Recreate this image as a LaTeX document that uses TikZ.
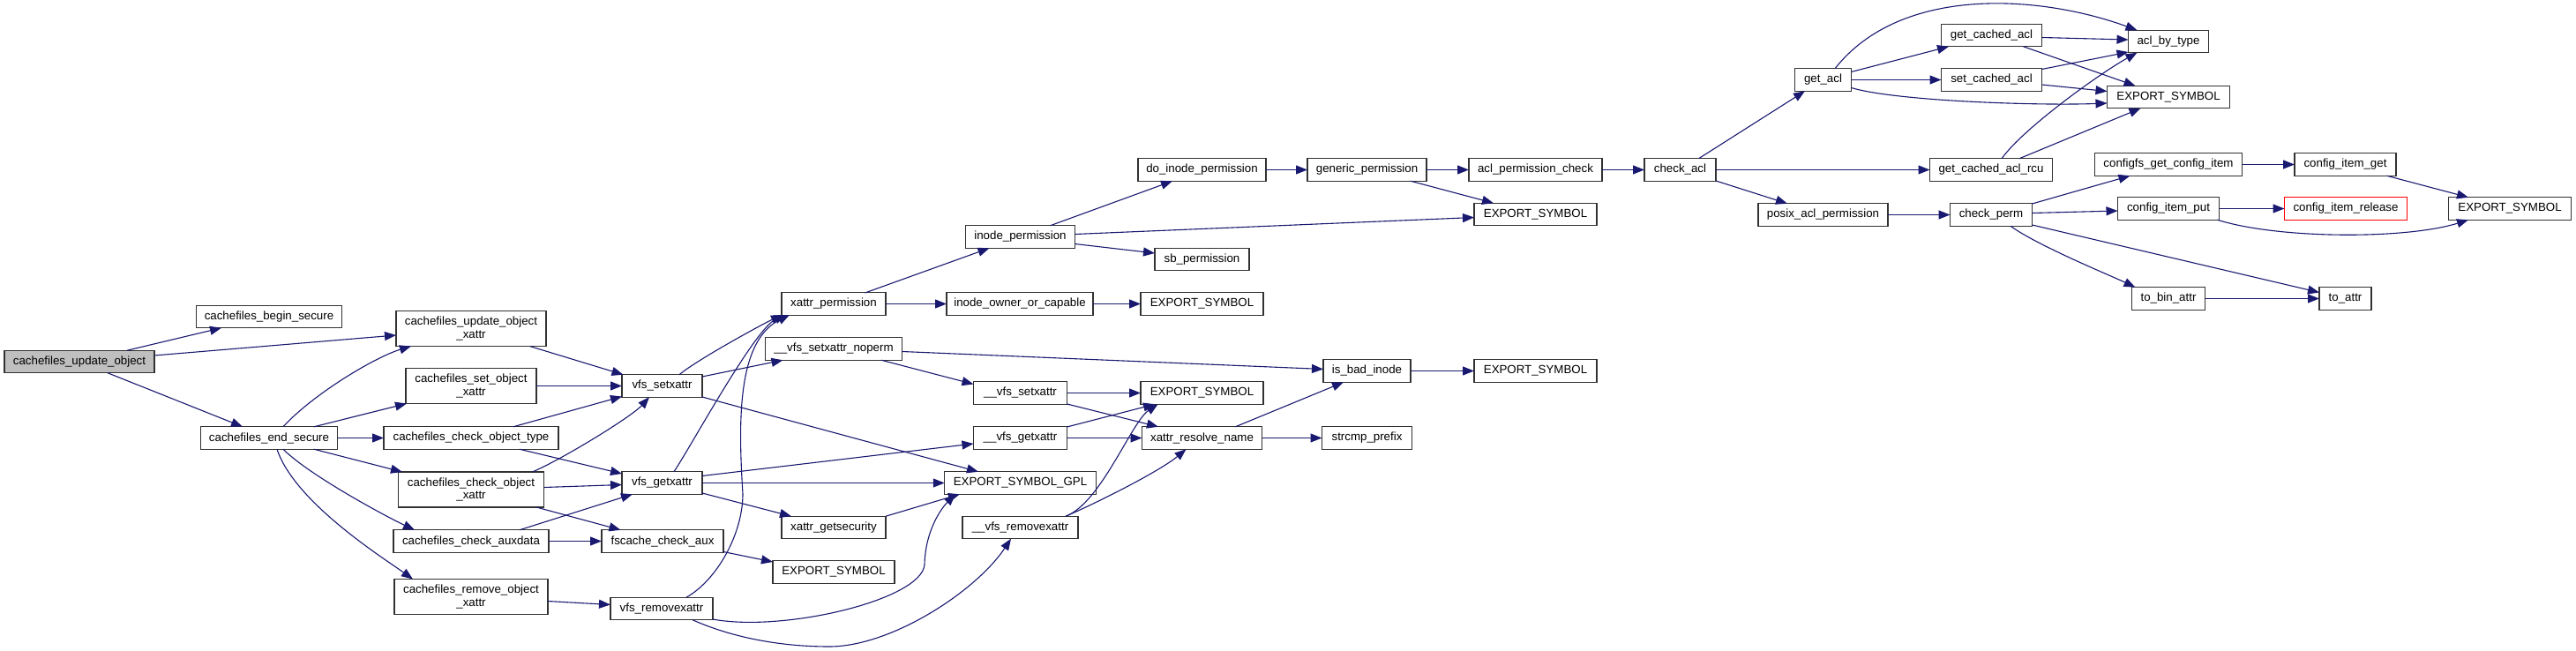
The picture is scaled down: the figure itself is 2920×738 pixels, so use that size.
\documentclass[tikz,border=0pt]{standalone}
\usepackage{fontspec}
\setmainfont{Liberation Sans}
\usetikzlibrary{arrows.meta,calc}
\definecolor{edgeblue}{RGB}{25,25,112}
\definecolor{nodegray}{RGB}{191,191,191}
\definecolor{boxline}{RGB}{50,50,50}
\begin{document}
\begin{tikzpicture}[x=1pt,y=-1pt,
  fn/.style={draw=boxline, line width=1.4pt, fill=white, inner sep=0pt, minimum height=25.5pt,
    font=\fontsize{13.3}{14.8}\selectfont, align=center, text=black},
  fn2/.style={fn, minimum height=40pt},
  ed/.style={draw=edgeblue, line width=1.1pt, -{Triangle[length=13pt,width=10pt]}},
]
\useasboundingbox (0,0) rectangle (2920,738);

% column 1-3
\node[fn, fill=nodegray, minimum width=170pt] (U) at (90,410) {cachefiles\_update\_object};
\node[fn, minimum width=165pt] (BS) at (305,359) {cachefiles\_begin\_secure};
\node[fn, minimum width=155pt] (ES) at (305,496.5) {cachefiles\_end\_secure};
\node[fn2, minimum width=170pt] (UOX) at (534,372.5) {cachefiles\_update\_object\\\_xattr};
\node[fn2, minimum width=148pt] (SOX) at (534,437.5) {cachefiles\_set\_object\\\_xattr};
\node[fn, minimum width=198pt] (COT) at (534,496.5) {cachefiles\_check\_object\_type};
\node[fn2, minimum width=165pt] (COX) at (534,555) {cachefiles\_check\_object\\\_xattr};
\node[fn, minimum width=176pt] (CAD) at (534,613.5) {cachefiles\_check\_auxdata};
\node[fn2, minimum width=174pt] (ROX) at (534,676.5) {cachefiles\_remove\_object\\\_xattr};
% column 4
\node[fn, minimum width=91pt] (VS) at (750.5,437.5) {vfs\_setxattr};
\node[fn, minimum width=91pt] (VG) at (750.5,547.5) {vfs\_getxattr};
\node[fn, minimum width=138pt] (FCA) at (751,613.5) {fscache\_check\_aux};
\node[fn, minimum width=116pt] (VR) at (750,690) {vfs\_removexattr};
% column 5
\node[fn, minimum width=118pt] (XP) at (945,344.5) {xattr\_permission};
\node[fn, minimum width=155pt] (VSN) at (945,395.5) {\_\_vfs\_setxattr\_noperm};
\node[fn, minimum width=118pt] (XGS) at (945,598) {xattr\_getsecurity};
\node[fn, minimum width=138pt] (FES) at (945,648.5) {EXPORT\_SYMBOL};
% column 6
\node[fn, minimum width=124pt] (IP) at (1156.5,268.5) {inode\_permission};
\node[fn, minimum width=166pt] (IOC) at (1156,344.5) {inode\_owner\_or\_capable};
\node[fn, minimum width=106pt] (VSX) at (1156.5,445.5) {\_\_vfs\_setxattr};
\node[fn, minimum width=106pt] (VGX) at (1156.5,496.5) {\_\_vfs\_getxattr};
\node[fn, minimum width=171.5pt] (ESG) at (1156.5,547.5) {EXPORT\_SYMBOL\_GPL};
\node[fn, minimum width=131pt] (VRX) at (1156.5,598) {\_\_vfs\_removexattr};
% column 7
\node[fn, minimum width=145pt] (DIP) at (1362.5,192.5) {do\_inode\_permission};
\node[fn, minimum width=107pt] (SBP) at (1362.5,294) {sb\_permission};
\node[fn, minimum width=139pt] (OES) at (1362.5,344.5) {EXPORT\_SYMBOL};
\node[fn, minimum width=139pt] (XES) at (1362.5,445.5) {EXPORT\_SYMBOL};
\node[fn, minimum width=136pt] (XRN) at (1362.5,496.5) {xattr\_resolve\_name};
% column 8
\node[fn, minimum width=135pt] (GP) at (1549.5,192.5) {generic\_permission};
\node[fn, minimum width=99pt] (IBI) at (1549.5,420.5) {is\_bad\_inode};
\node[fn, minimum width=102pt] (SP) at (1549.5,496.5) {strcmp\_prefix};
% column 9
\node[fn, minimum width=151pt] (APC) at (1740.5,192.5) {acl\_permission\_check};
\node[fn, minimum width=139pt] (GES) at (1740.5,243) {EXPORT\_SYMBOL};
\node[fn, minimum width=139pt] (IES) at (1740.5,420.5) {EXPORT\_SYMBOL};
% column 10-11
\node[fn, minimum width=81pt] (CA) at (1904.5,192.5) {check\_acl};
\node[fn, minimum width=64pt] (GA) at (2066.5,90.5) {get\_acl};
\node[fn, minimum width=147pt] (PAP) at (2066.5,243.5) {posix\_acl\_permission};
% column 12
\node[fn, minimum width=114pt] (GCA) at (2257.5,40) {get\_cached\_acl};
\node[fn, minimum width=114pt] (SCA) at (2257.5,90.5) {set\_cached\_acl};
\node[fn, minimum width=139pt] (GCAR) at (2257,192.5) {get\_cached\_acl\_rcu};
\node[fn, minimum width=93pt] (CP) at (2257,243.5) {check\_perm};
% column 13
\node[fn, minimum width=91pt] (ABT) at (2458,47) {acl\_by\_type};
\node[fn, minimum width=139pt] (AES) at (2458,110) {EXPORT\_SYMBOL};
\node[fn, minimum width=167pt] (CGCI) at (2458,186.5) {configfs\_get\_config\_item};
\node[fn, minimum width=115pt] (CIP) at (2458,236.5) {config\_item\_put};
\node[fn, minimum width=83pt] (TBA) at (2458,338.5) {to\_bin\_attr};
% column 14-15
\node[fn, minimum width=115pt] (CIG) at (2658.5,186.5) {config\_item\_get};
\node[fn, draw=red, minimum width=139pt] (CIR) at (2659,236.5) {config\_item\_release};
\node[fn, minimum width=59pt] (TA) at (2658.5,338.5) {to\_attr};
\node[fn, minimum width=139pt] (CES) at (2845,236.5) {EXPORT\_SYMBOL};

% edges
\draw[ed] ($(U)+(54,-12.75)$) -- ($(BS)+(-54,12.75)$);
\draw[ed] ($(U)+(85,-7)$) -- ($(UOX)+(-85,7.5)$);
\draw[ed] ($(U)+(32,12.75)$) -- ($(ES)+(-30,-12.75)$);
\draw[ed] ($(ES)+(16,-12.75)$) .. controls +(35,-38) and +(-40,12) .. ($(UOX)+(-68,20)$);
\draw[ed] ($(ES)+(51,-12.75)$) -- ($(SOX)+(-73,20)$);
\draw[ed] ($(ES)+(77.5,0)$) -- ($(COT)+(-99,0)$);
\draw[ed] ($(ES)+(51,12.75)$) -- ($(COX)+(-78,-20)$);
\draw[ed] ($(ES)+(16,12.75)$) .. controls +(30,30) and +(-30,-14) .. ($(CAD)+(-64,-12.75)$);
\draw[ed] ($(ES)+(9,12.75)$) .. controls +(20,60) and +(-35,-25) .. ($(ROX)+(-66,-20)$);
\draw[ed] ($(UOX)+(66.5,20)$) -- ($(VS)+(-44,-12.75)$);
\draw[ed] ($(SOX)+(74,0)$) -- ($(VS)+(-45.5,0)$);
\draw[ed] ($(COT)+(48,-12.75)$) -- ($(VS)+(-45.5,12)$);
\draw[ed] ($(COT)+(55,12.75)$) -- ($(VG)+(-45.5,-10.5)$);
\draw[ed] ($(COX)+(69.5,-20)$) .. controls +(35,-15) and +(-20,22) .. ($(VS)+(-14.5,12.75)$);
\draw[ed] ($(COX)+(82.5,-2.5)$) -- ($(VG)+(-45.5,2)$);
\draw[ed] ($(COX)+(74,20)$) -- ($(FCA)+(-47.5,-12.75)$);
\draw[ed] ($(CAD)+(55,-12.75)$) -- ($(VG)+(-33.5,12.75)$);
\draw[ed] ($(CAD)+(88,0)$) -- ($(FCA)+(-69,0)$);
\draw[ed] ($(ROX)+(87,5)$) -- ($(VR)+(-58,-4.5)$);
\draw[ed] ($(VS)+(19.5,-12.75)$) .. controls +(20,-17) and +(-20,9) .. ($(XP)+(-58,12.5)$);
\draw[ed] ($(VS)+(45.5,-10.5)$) -- ($(VSN)+(-57.5,12.75)$);
\draw[ed] ($(VS)+(45.5,12.5)$) -- ($(ESG)+(-47.5,-12.75)$);
\draw[ed] ($(VG)+(13.5,-12.75)$) .. controls +(20,-30) and +(-35,15) .. ($(XP)+(-54,12.5)$);
\draw[ed] ($(VR)+(28,-12.75)$) .. controls +(35,-20) and +(0,45) .. (842,560) .. controls +(-5,-80) and +(-60,30) .. ($(XP)+(-50,12.5)$);
\draw[ed] ($(VG)+(45.5,-8)$) -- ($(VGX)+(-53,6.5)$);
\draw[ed] ($(VG)+(45.5,0)$) -- ($(ESG)+(-85.75,0)$);
\draw[ed] ($(VG)+(45.5,11.5)$) -- ($(XGS)+(-48,-12.75)$);
\draw[ed] ($(XGS)+(59,-12.75)$) -- ($(ESG)+(-68.5,12.75)$);
\draw[ed] ($(FCA)+(69,12)$) -- ($(FES)+(-69,-11.5)$);
\draw[ed] ($(VR)+(58,12)$) .. controls +(80,15) and +(-3,40) .. (1048,640) .. controls +(1,-40) and +(-15,15) .. ($(ESG)+(-73.5,12.75)$);
\draw[ed] ($(VR)+(35,12.75)$) .. controls +(50,22) and +(-50,0) .. (940,733) .. controls +(70,0) and +(-40,60) .. ($(VRX)+(-10.5,12.75)$);
\draw[ed] ($(VSN)+(77.5,3)$) -- ($(IBI)+(-49.5,-2)$);
\draw[ed] ($(VSN)+(54,12.75)$) -- ($(VSX)+(-53,-10)$);
\draw[ed] ($(VSX)+(53,0)$) -- ($(XES)+(-69.5,0)$);
\draw[ed] ($(VSX)+(53,12.5)$) -- ($(XRN)+(-49.5,-12.75)$);
\draw[ed] ($(VGX)+(53,-12.5)$) -- ($(XES)+(-53.5,12.75)$);
\draw[ed] ($(VGX)+(53,0)$) -- ($(XRN)+(-68,0)$);
\draw[ed] ($(VRX)+(51.5,-12.75)$) .. controls +(40,-15) and +(-30,20) .. ($(XES)+(-50,12.75)$);
\draw[ed] ($(VRX)+(51.5,-12.75)$) .. controls +(35,-15) and +(-30,25) .. ($(XRN)+(-18,12.75)$);
\draw[ed] ($(XRN)+(38,-12.75)$) -- ($(IBI)+(-26.5,12.75)$);
\draw[ed] ($(XRN)+(68,0)$) -- ($(SP)+(-51,0)$);
\draw[ed] ($(IBI)+(49.5,0)$) -- ($(IES)+(-69.5,0)$);
\draw[ed] ($(XP)+(35.5,-12.5)$) -- ($(IP)+(-35,12.75)$);
\draw[ed] ($(XP)+(59,0)$) -- ($(IOC)+(-83,0)$);
\draw[ed] ($(IOC)+(83,0)$) -- ($(OES)+(-69.5,0)$);
\draw[ed] ($(IP)+(34,-12.75)$) -- ($(DIP)+(-33.5,12.75)$);
\draw[ed] ($(IP)+(62,-3)$) -- ($(GES)+(-69.5,3.5)$);
\draw[ed] ($(IP)+(62,8)$) -- ($(SBP)+(-53.5,-7)$);
\draw[ed] ($(DIP)+(72.5,0)$) -- ($(GP)+(-67.5,0)$);
\draw[ed] ($(GP)+(67.5,0)$) -- ($(APC)+(-75.5,0)$);
\draw[ed] ($(GP)+(49.5,12.75)$) -- ($(GES)+(-47.5,-12.75)$);
\draw[ed] ($(APC)+(75.5,0)$) -- ($(CA)+(-40.5,0)$);
\draw[ed] ($(CA)+(21,-12.75)$) -- ($(GA)+(-20.5,12.75)$);
\draw[ed] ($(CA)+(40.5,0)$) -- ($(GCAR)+(-69.5,0)$);
\draw[ed] ($(CA)+(40.5,12.5)$) -- ($(PAP)+(-40.5,-12.75)$);
\draw[ed] ($(GA)+(32,-9)$) -- ($(GCA)+(-48.5,12.75)$);
\draw[ed] ($(GA)+(32,0)$) -- ($(SCA)+(-57,0)$);
\draw[ed] ($(GA)+(13.5,-12.75)$) .. controls +(75,-95) and +(-110,-40) .. ($(ABT)+(-35.5,-12.75)$);
\draw[ed] ($(GA)+(32,9)$) .. controls +(50,15) and +(-80,3) .. ($(AES)+(-69.5,7)$);
\draw[ed] ($(GCA)+(57,2.5)$) -- ($(ABT)+(-45.5,-2)$);
\draw[ed] ($(GCA)+(36,12.75)$) -- ($(AES)+(-37.5,-12.75)$);
\draw[ed] ($(SCA)+(57,-12)$) -- ($(ABT)+(-45.5,12)$);
\draw[ed] ($(SCA)+(57,5.5)$) -- ($(AES)+(-69.5,-6.5)$);
\draw[ed] ($(GCAR)+(12,-12.75)$) .. controls +(25,-35) and +(-40,22) .. ($(ABT)+(-35.5,12.75)$);
\draw[ed] ($(GCAR)+(32,-12.75)$) -- ($(AES)+(-31.5,12.75)$);
\draw[ed] ($(PAP)+(73.5,0)$) -- ($(CP)+(-46.5,0)$);
\draw[ed] ($(CP)+(46.5,-12.5)$) -- ($(CGCI)+(-43.5,12.75)$);
\draw[ed] ($(CP)+(46.5,-2)$) -- ($(CIP)+(-57.5,2.5)$);
\draw[ed] ($(CP)+(46.5,11.5)$) -- ($(TA)+(-29.5,-7)$);
\draw[ed] ($(CP)+(22,12.75)$) .. controls +(30,22) and +(-25,-12) .. ($(TBA)+(-37.5,-12.75)$);
\draw[ed] ($(CGCI)+(83.5,0)$) -- ($(CIG)+(-57.5,0)$);
\draw[ed] ($(CIP)+(57.5,0)$) -- ($(CIR)+(-69.5,0)$);
\draw[ed] ($(CIP)+(55.5,12.75)$) .. controls +(70,22) and +(-70,22) .. ($(CES)+(-47,12.75)$);
\draw[ed] ($(CIG)+(47,12.75)$) -- ($(CES)+(-47,-12.75)$);
\draw[ed] ($(TBA)+(41.5,0)$) -- ($(TA)+(-29.5,0)$);
\end{tikzpicture}
\end{document}
